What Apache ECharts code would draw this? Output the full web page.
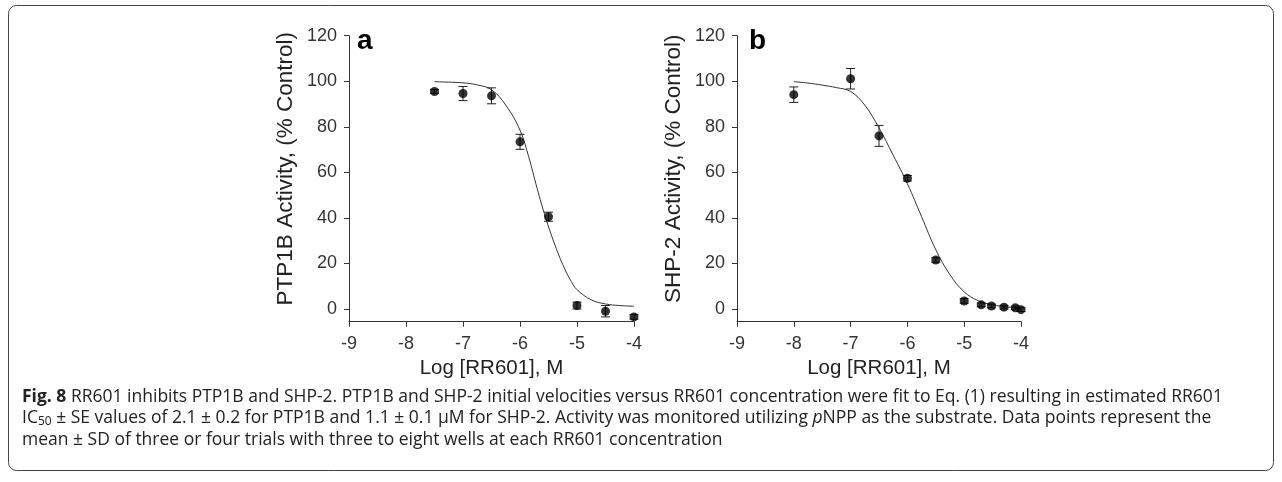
<!DOCTYPE html>
<html>
<head>
<meta charset="utf-8">
<script src="https://cdn.jsdelivr.net/npm/echarts@6/dist/echarts.min.js"></script>
<style>html,body{margin:0;padding:0;background:#fff;}#c{width:1282px;height:482px;}</style>
</head>
<body>
<div id="c"></div>
<script>
// ---- data ----
const xTicks = [-9, -8, -7, -6, -5, -4];
const yTicks = [0, 20, 40, 60, 80, 100, 120];

// Panel a: PTP1B
const aX   = [-7.5, -7, -6.5, -6, -5.5, -5, -4.5, -4];
const aY   = [95.5, 94.6, 93.6, 73.4, 40.5, 1.5, -1.0, -3.5];
const aErr = [0.8, 3.1, 3.5, 3.3, 2.0, 1.5, 2.5, 1.0];
const aCurveX = [-7.5, -7.25, -7, -6.75, -6.5, -6.25, -6, -5.85, -5.7, -5.55, -5.4, -5.25, -5.1, -5, -4.75, -4.5, -4.25, -4];
const aCurveY = [99.8, 99.6, 99.3, 98.4, 96.3, 89.5, 78.5, 67, 53, 40, 29, 19.5, 12, 8.5, 4, 2.2, 1.5, 1.2];

// Panel b: SHP-2
const bX   = [-8, -7, -6.5, -6, -5.5, -5, -4.7, -4.52, -4.3, -4.1, -4];
const bY   = [94.1, 101.1, 76.0, 57.4, 21.5, 3.5, 1.8, 1.3, 0.8, 0.5, -0.3];
const bErr = [3.4, 4.5, 4.6, 1.2, 1.0, 1.0, 0.8, 0.8, 0.8, 0.8, 0.8];
const bCurveX = [-8, -7.75, -7.5, -7.25, -7, -6.75, -6.5, -6.25, -6, -5.75, -5.5, -5.25, -5, -4.75, -4.5, -4.25, -4];
const bCurveY = [99.8, 99.2, 98.3, 97.2, 95.5, 89.5, 79.5, 67.5, 55, 40.5, 26, 15, 7.5, 3.6, 1.8, 0.9, 0.4];

const panelLabels = ['a', 'b'];
const yTitles = ['PTP1B Activity, (% Control)', 'SHP-2 Activity, (% Control)'];
const xTitle = 'Log [RR601], M';
const captionLines = [
  '{b|Fig. 8} RR601 inhibits PTP1B and SHP-2. PTP1B and SHP-2 initial velocities versus RR601 concentration were fit to Eq. (1) resulting in estimated RR601',
  'IC{sub|50} ± SE values of 2.1 ± 0.2 for PTP1B and 1.1 ± 0.1 µM for SHP-2. Activity was monitored utilizing {i|p}NPP as the substrate. Data points represent the',
  'mean ± SD of three or four trials with three to eight wells at each RR601 concentration'
];

// ---- chart ----
const zip = (xs, ys) => xs.map((x, i) => [x, ys[i]]);
const zip3 = (xs, ys, es) => xs.map((x, i) => [x, ys[i], es[i]]);
const AX = '#333';
const FONT = 'Liberation Sans';
const CAP = 17.5;

function errItem(params, api) {
  const x = api.value(0), y = api.value(1), e = api.value(2);
  const top = api.coord([x, y + e]);
  const bot = api.coord([x, y - e]);
  const hw = 4.5;
  const st = {stroke: '#222', lineWidth: 1};
  return {type: 'group', children: [
    {type: 'line', shape: {x1: top[0], y1: top[1], x2: bot[0], y2: bot[1]}, style: st},
    {type: 'line', shape: {x1: top[0] - hw, y1: top[1], x2: top[0] + hw, y2: top[1]}, style: st},
    {type: 'line', shape: {x1: bot[0] - hw, y1: bot[1], x2: bot[0] + hw, y2: bot[1]}, style: st}
  ]};
}

const grids = [
  {left: 349, right: 648, top: 35.7, bottom: 160.3},
  {left: 737, right: 261, top: 35.7, bottom: 160.3}
];

function xAxisCfg(i) {
  return {
    type: 'value', gridIndex: i, min: -9, max: -4, interval: 1,
    axisLine: {onZero: false, lineStyle: {color: AX, width: 1}},
    axisTick: {length: 5, lineStyle: {color: AX}},
    axisLabel: {fontSize: 18, color: '#333', fontFamily: FONT, margin: 13},
    splitLine: {show: false},
    name: xTitle, nameLocation: 'middle', nameGap: 30,
    nameTextStyle: {fontSize: 20.5, color: '#222', fontFamily: FONT}
  };
}
function yAxisCfg(i) {
  return {
    type: 'value', gridIndex: i, min: -5.6, max: 120,
    axisLine: {show: true, onZero: false, lineStyle: {color: AX, width: 1}},
    axisTick: {show: true, length: 5, customValues: yTicks, lineStyle: {color: AX}},
    axisLabel: {customValues: yTicks, fontSize: 18, color: '#333', fontFamily: FONT, margin: 12},
    splitLine: {show: false},
    name: yTitles[i], nameLocation: 'middle', nameGap: 52,
    nameTextStyle: {fontSize: 22.5, color: '#222', fontFamily: FONT, padding: [0, 0, 0, 20]}
  };
}

const series = [];
[[aX, aY, aErr, aCurveX, aCurveY], [bX, bY, bErr, bCurveX, bCurveY]].forEach((d, i) => {
  series.push({type: 'line', xAxisIndex: i, yAxisIndex: i, data: zip(d[3], d[4]), smooth: 0.4,
    showSymbol: false, lineStyle: {color: '#333', width: 1}, silent: true, z: 2});
  series.push({type: 'custom', xAxisIndex: i, yAxisIndex: i, data: zip3(d[0], d[1], d[2]),
    renderItem: errItem, z: 3});
  series.push({type: 'scatter', xAxisIndex: i, yAxisIndex: i, data: zip(d[0], d[1]),
    symbol: 'circle', symbolSize: 9, itemStyle: {color: '#000'}, z: 4});
});

const graphics = [
  {type: 'rect', shape: {x: 8.5, y: 5.5, width: 1265, height: 465, r: 8},
   style: {fill: 'none', stroke: '#444', lineWidth: 1}, z: -1},
  {type: 'text', left: 357, top: 27, style: {text: panelLabels[0], font: 'bold 28px "Liberation Sans"', fill: '#000'}},
  {type: 'text', left: 749, top: 27, style: {text: panelLabels[1], font: 'bold 28px "Liberation Sans"', fill: '#000'}}
];
captionLines.forEach((t, k) => {
  graphics.push({type: 'text', left: 22, top: 388 + k * 21.5, style: {
    text: t, font: CAP + 'px "Open Sans"', fill: '#222',
    rich: {
      b: {fontWeight: 'bold', fontSize: CAP, fontFamily: 'Open Sans', fill: '#222'},
      i: {fontStyle: 'italic', fontSize: CAP, fontFamily: 'Open Sans', fill: '#222'},
      sub: {fontSize: 12, fontFamily: 'Open Sans', fill: '#222', verticalAlign: 'bottom', padding: [7, 0, 0, 0]}
    }
  }});
});

const chart = echarts.init(document.getElementById('c'), null, {renderer: 'canvas'});
chart.setOption({
  animation: false,
  backgroundColor: '#fff',
  grid: grids,
  xAxis: [xAxisCfg(0), xAxisCfg(1)],
  yAxis: [yAxisCfg(0), yAxisCfg(1)],
  series: series,
  graphic: graphics
});
</script>
</body>
</html>
